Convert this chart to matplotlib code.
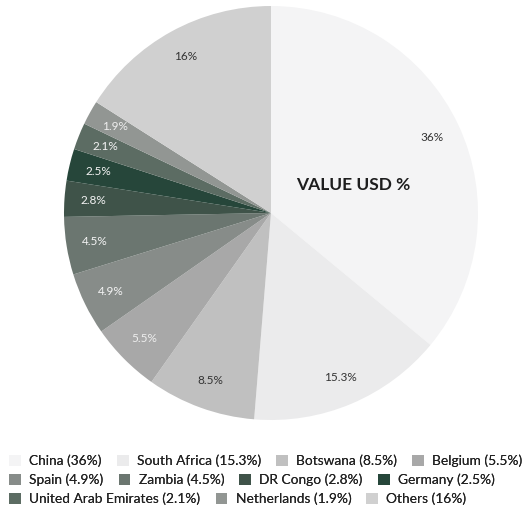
import matplotlib
matplotlib.use('Agg')
import matplotlib.pyplot as plt
import numpy as np

plt.rcParams['font.family'] = ['Lato', 'DejaVu Sans']

# Export share by destination (value USD %)
countries = ['China', 'South Africa', 'Botswana', 'Belgium', 'Spain', 'Zambia',
             'DR Congo', 'Germany', 'United Arab Emirates', 'Netherlands', 'Others']
shares = [36, 15.3, 8.5, 5.5, 4.9, 4.5, 2.8, 2.5, 2.1, 1.9, 16]
pct_labels = ['36%', '15.3%', '8.5%', '5.5%', '4.9%', '4.5%', '2.8%', '2.5%',
              '2.1%', '1.9%', '16%']
legend_labels = ['China (36%)', 'South Africa (15.3%)', 'Botswana (8.5%)', 'Belgium (5.5%)',
                 'Spain (4.9%)', 'Zambia (4.5%)', 'DR Congo (2.8%)', 'Germany (2.5%)',
                 'United Arab Emirates (2.1%)', 'Netherlands (1.9%)', 'Others (16%)']
colors = ['#f4f4f5', '#ebebec', '#c0c0c0', '#a8a8a8', '#878c89', '#6b7670',
          '#3f5349', '#26463a', '#5c6c63', '#929693', '#d0d0d0']
label_colors = ['#333333', '#333333', '#333333', '#eeeeee', '#f4f4f4', '#f4f4f4',
                '#f4f4f4', '#f4f4f4', '#f4f4f4', '#eeeeee', '#333333']

fig = plt.figure(figsize=(5.23, 5.12), dpi=100)
ax = fig.add_axes([64 / 523, 92 / 512, 414 / 523, 414 / 512])

wedges, _ = ax.pie(shares, colors=colors, startangle=90, counterclock=False,
                   radius=1.0, wedgeprops=dict(linewidth=0))

# percentage labels inside the wedges
for w, txt, c in zip(wedges, pct_labels, label_colors):
    ang = np.deg2rad((w.theta1 + w.theta2) / 2)
    ax.text(0.86 * np.cos(ang), 0.86 * np.sin(ang), txt, ha='center', va='center',
            fontsize=8.5, color=c)

ax.text(0.395, 0.135, 'VALUE USD %', ha='center', va='center', fontsize=12.5,
        fontweight='bold', color='#1e1e1e')
ax.set_xlim(-1, 1)
ax.set_ylim(-1, 1)
ax.set_aspect('equal')
ax.axis('off')

# legend laid out as three left-aligned rows
rows = [(0, 4), (4, 8), (8, 11)]
row_tops = [461, 480, 499]
for (a, b), y in zip(rows, row_tops):
    leg = fig.legend(wedges[a:b], legend_labels[a:b], ncol=b - a,
                     loc='center left', bbox_to_anchor=(8 / 523, 1 - y / 512),
                     frameon=False, fontsize=9.9, handlelength=0.85, handleheight=0.85,
                     handletextpad=0.6, columnspacing=1.1, borderaxespad=0,
                     borderpad=0.1)
    for t in leg.get_texts():
        t.set_color('#222222')
    fig.add_artist(leg)

plt.savefig('out.png', dpi=100)
plt.close()
